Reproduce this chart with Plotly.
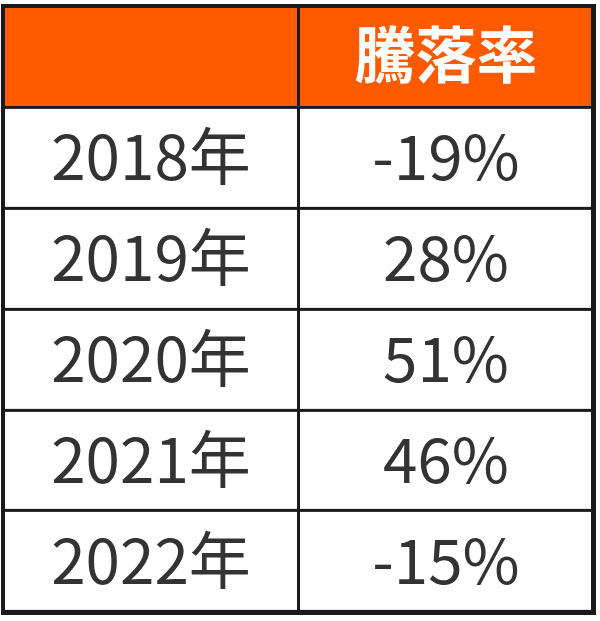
import plotly.graph_objects as go

years = ["2018年", "2019年", "2020年", "2021年", "2022年"]
rates = ["-19%", "28%", "51%", "46%", "-15%"]
header = ["", "騰落率"]

col_idx = [0, 1]
row_idx = list(range(1, len(years) + 1))

fig = go.Figure()
# header row
fig.add_trace(go.Heatmap(
    x=col_idx, y=[0], z=[[1, 1]],
    text=[header], texttemplate="<b>%{text}</b>",
    textfont=dict(family="Noto Sans CJK JP", size=61, color="white"),
    colorscale=[[0, "#FF5A00"], [1, "#FF5A00"]], showscale=False,
    xgap=3, ygap=3, hoverinfo="skip",
))
# body rows
fig.add_trace(go.Heatmap(
    x=col_idx, y=row_idx, z=[[0, 0] for _ in years],
    text=[[y, r] for y, r in zip(years, rates)], texttemplate="%{text}",
    textfont=dict(family="Noto Sans CJK JP", size=62, color="#333333"),
    colorscale=[[0, "white"], [1, "white"]], showscale=False,
    xgap=3, ygap=3, hoverinfo="skip",
))
fig.update_xaxes(range=[-0.5, 1.5], showgrid=False, zeroline=False,
                 showticklabels=False, ticks="", showline=True, mirror=True,
                 linecolor="#1a1a1a", linewidth=3)
fig.update_yaxes(range=[5.5, -0.5], showgrid=False, zeroline=False,
                 showticklabels=False, ticks="", showline=True, mirror=True,
                 linecolor="#1a1a1a", linewidth=3)
fig.update_layout(width=600, height=621, margin=dict(l=4, r=4, t=4, b=9),
                  paper_bgcolor="white", plot_bgcolor="#1a1a1a")
fig.write_html("out.html", config={"displayModeBar": False},
               post_script="document.body.style.margin='0';document.body.style.overflow='hidden';")
